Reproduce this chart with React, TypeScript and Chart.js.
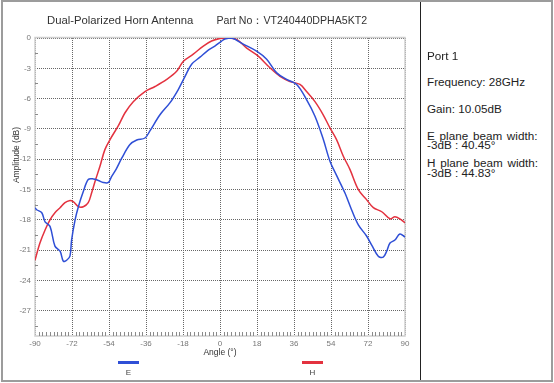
import React, { useEffect, useRef } from 'react';
import { Chart, registerables } from 'chart.js';

Chart.register(...registerables);

// ---- data ----
const eAngles = [-90, -89.2, -86.7, -85.1, -82.7, -80.3, -77.8, -76.2, -74.6, -73, -72.2, -70.5, -68.9, -66.5, -64.1, -61.6, -59.2, -56.8, -54.3, -52.7, -50.3, -47.8, -43.8, -40.5, -36.5, -34.1, -29.2, -24.3, -20.3, -17, -13.8, -9.75, -5.7, -2.5, 0.8, 2.4, 5.7, 11.3, 17.8, 22.7, 27.6, 32.4, 37.3, 42.1, 46.2, 50.2, 53.5, 56.7, 60.8, 64, 67.3, 71.3, 73.8, 77, 79.4, 81.1, 82.7, 85.1, 87.5, 90];
const eValues = [-16.8, -17.0, -17.3, -18.2, -18.65, -20.6, -21.1, -22.1, -22.0, -21.6, -20.0, -18.0, -16.7, -15.2, -14.0, -13.95, -14.1, -14.3, -14.3, -13.7, -12.9, -11.9, -10.55, -10.1, -9.9, -9.2, -7.6, -6.4, -5.1, -3.8, -2.6, -1.9, -1.2, -0.8, -0.3, -0.1, 0, -0.6, -1.3, -2.1, -3.45, -4.1, -4.6, -6.1, -7.75, -10.0, -12.2, -13.6, -15.35, -17.0, -18.5, -19.6, -20.5, -21.6, -21.7, -21.1, -20.3, -20.0, -19.4, -19.7];

const hAngles = [-90, -87.6, -85.1, -82.7, -80.3, -77.8, -75.4, -73.3, -71.4, -68.9, -66.5, -64.1, -62.4, -60.8, -58.4, -56, -53.5, -49.5, -46.2, -42.2, -36.5, -31.6, -25.9, -21.1, -17.8, -13, -8.1, -4.1, 0, 3.2, 8.1, 13, 18.6, 24.3, 29.2, 34, 38.9, 42.1, 46.2, 50.2, 53.5, 56.7, 60, 63.2, 67.3, 71.3, 74.6, 78.7, 82.7, 85.1, 87.5, 90];
const hValues = [-22.0, -20.3, -19.0, -18.0, -17.3, -16.8, -16.3, -16.1, -16.2, -16.7, -16.7, -16.3, -15.3, -14.2, -12.7, -11.05, -10.05, -8.7, -7.4, -6.3, -5.3, -4.8, -4.1, -3.3, -2.3, -1.6, -0.8, -0.3, -0.05, 0, -0.15, -1.0, -1.8, -2.95, -3.8, -4.3, -4.6, -5.3, -6.3, -7.6, -8.9, -10.06, -11.7, -13.0, -15.0, -16.0, -16.8, -17.2, -17.9, -17.7, -17.9, -18.3];

const xTicks = [-90, -72, -54, -36, -18, 0, 18, 36, 54, 72, 90];
const yTicks = [0, -3, -6, -9, -12, -15, -18, -21, -24, -27];
const seriesNames = ['E', 'H'];
const seriesColors = ['#2f4fd6', '#e3323f'];

const titleLeft = 'Dual-Polarized Horn Antenna';
const titleRight = 'Part No：VT240440DPHA5KT2';
const infoLines = ['Port 1', 'Frequency: 28GHz', 'Gain: 10.05dB'];
const eBeam = ['E plane beam width:', '-3dB : 40.45°'];
const hBeam = ['H plane beam width:', '-3dB : 44.83°'];

const FONT = '"Liberation Sans", Arial, Helvetica, sans-serif';

const decorPlugin = {
  id: 'decor',
  beforeDatasetsDraw(chart: any) {
    const { ctx, chartArea: a, scales } = chart;
    const xs = scales.x;
    const ys = scales.y;
    ctx.save();
    // frame
    ctx.strokeStyle = '#cfcfcf';
    ctx.lineWidth = 1.5;
    ctx.strokeRect(a.left, a.top - 0.5, a.right - a.left, a.bottom - a.top + 0.5);
    // minor x ticks
    ctx.strokeStyle = '#8a8a8a';
    ctx.lineWidth = 1;
    for (let i = 0; i <= 100; i++) {
      const v = -90 + i * 1.8;
      if (i % 10 === 0) continue;
      const px = Math.round(xs.getPixelForValue(v)) + 0.5;
      ctx.beginPath();
      ctx.moveTo(px, a.bottom);
      ctx.lineTo(px, a.bottom - 4);
      ctx.stroke();
    }
    // minor y ticks
    for (let v = -1.5; v > ys.min; v -= 3) {
      const py = Math.round(ys.getPixelForValue(v)) + 0.5;
      ctx.beginPath();
      ctx.moveTo(a.left, py);
      ctx.lineTo(a.left + 3, py);
      ctx.stroke();
    }
    ctx.restore();
  },
  afterDraw(chart: any) {
    const { ctx, chartArea: a } = chart;
    ctx.save();
    ctx.fillStyle = '#333';
    ctx.font = `8.5px ${FONT}`;
    ctx.textAlign = 'center';
    ctx.textBaseline = 'middle';
    // x title
    ctx.fillText('Angle (°)', (a.left + a.right) / 2, 353);
    // y title
    ctx.save();
    ctx.translate(17, 155);
    ctx.rotate(-Math.PI / 2);
    ctx.fillText('Amplitude (dB)', 0, 0);
    ctx.restore();
    // legend
    const legendX = [128.5, 312.5];
    chart.data.datasets.forEach((ds: any, i: number) => {
      const cx = legendX[i];
      ctx.fillStyle = ds.borderColor;
      ctx.fillRect(cx - 10.5, 361, 21, 3);
      ctx.fillStyle = '#444';
      ctx.font = `8px ${FONT}`;
      ctx.fillText(ds.label, cx, 373);
    });
    ctx.restore();
  },
};

export default function App() {
  const canvasRef = useRef<HTMLCanvasElement | null>(null);

  useEffect(() => {
    const canvas = canvasRef.current;
    if (!canvas) return;
    Chart.defaults.font.family = FONT;
    const chart = new Chart(canvas, {
      type: 'line',
      data: {
        datasets: [
          {
            label: seriesNames[0],
            data: eAngles.map((a, i) => ({ x: a, y: eValues[i] })),
            borderColor: seriesColors[0],
            backgroundColor: seriesColors[0],
            borderWidth: 1.5,
            pointRadius: 0,
            tension: 0.35,
            fill: false,
          },
          {
            label: seriesNames[1],
            data: hAngles.map((a, i) => ({ x: a, y: hValues[i] })),
            borderColor: seriesColors[1],
            backgroundColor: seriesColors[1],
            borderWidth: 1.5,
            pointRadius: 0,
            tension: 0.35,
            fill: false,
          },
        ],
      },
      options: {
        animation: false,
        responsive: false,
        devicePixelRatio: 1,
        layout: { padding: { left: 10, right: 13, top: 38, bottom: 0 } },
        plugins: { legend: { display: false }, tooltip: { enabled: false }, title: { display: false } },
        scales: {
          x: {
            type: 'linear',
            min: -90,
            max: 90,
            afterBuildTicks: (axis: any) => {
              axis.ticks = xTicks.map((v) => ({ value: v }));
            },
            afterFit: (scale: any) => {
              scale.height = 47;
            },
            ticks: { font: { size: 8 }, color: '#777', padding: 3, maxRotation: 0, autoSkip: false },
            grid: { color: '#666', lineWidth: 1, drawTicks: false },
            border: { display: false, dash: [1, 1] },
          },
          y: {
            type: 'linear',
            min: -29.5,
            max: 0,
            afterBuildTicks: (axis: any) => {
              axis.ticks = yTicks.map((v) => ({ value: v }));
            },
            afterFit: (scale: any) => {
              scale.width = 25;
            },
            ticks: { font: { size: 8 }, color: '#777', padding: 4, autoSkip: false },
            grid: { color: '#666', lineWidth: 1, drawTicks: false },
            border: { display: false, dash: [1, 1] },
          },
        },
      },
      plugins: [decorPlugin],
    } as any);
    return () => chart.destroy();
  }, []);

  const text: React.CSSProperties = {
    position: 'absolute',
    fontFamily: FONT,
    whiteSpace: 'nowrap',
    lineHeight: '12px',
  };

  return (
    <div style={{ position: 'fixed', left: 0, top: 0, width: 554, height: 383, background: '#fff', overflow: 'hidden' }}>
      <div style={{ position: 'absolute', left: 1, top: 0, width: 552, height: 382, border: '2px solid #9c9c9c', boxSizing: 'border-box' }} />
      <div style={{ position: 'absolute', left: 420, top: 2, width: 1, height: 378, background: '#222' }} />
      <canvas ref={canvasRef} width={418} height={383} style={{ position: 'absolute', left: 0, top: 0, width: 418, height: 383 }} />
      <div style={{ ...text, left: 47, top: 14, fontSize: 11.3, color: '#333' }}>{titleLeft}</div>
      <div style={{ ...text, left: 216.5, top: 14, fontSize: 10.6, color: '#333' }}>{titleRight}</div>
      {infoLines.map((t, i) => (
        <div key={t} style={{ ...text, left: 427, top: [50, 76, 103][i], fontSize: 11.7, color: '#222' }}>{t}</div>
      ))}
      {[eBeam, hBeam].map((lines, k) => (
        <React.Fragment key={k}>
          <div style={{ ...text, left: 427, top: [129.5, 157][k], fontSize: 11.7, color: '#222', wordSpacing: 1.5 }}>{lines[0]}</div>
          <div style={{ ...text, left: 427, top: [139, 166.5][k], fontSize: 11.7, color: '#222' }}>{lines[1]}</div>
        </React.Fragment>
      ))}
    </div>
  );
}
